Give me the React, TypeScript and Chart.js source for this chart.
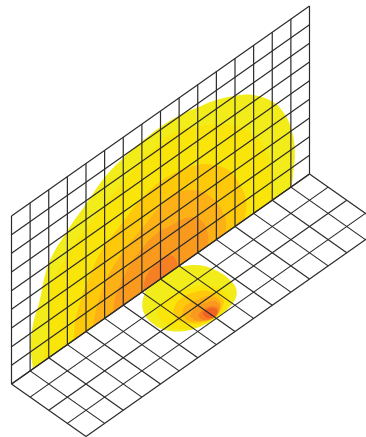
import React, { useEffect, useRef } from "react";
import { Chart, registerables } from "chart.js";

Chart.register(...registerables);

// Grid size, in cells
const wallColumns = [0, 1, 2, 3, 4, 5, 6, 7, 8, 9, 10, 11, 12, 13, 14, 15, 16];
const wallRows = [0, 1, 2, 3, 4, 5, 6, 7, 8, 9];
const floorRows = [0, 1, 2, 3, 4];

// Contours on the wall: [column, height]
const wallLevel1 = [[1.15,0],[1.03,1.26],[1.17,2.44],[1.48,3.3],[1.99,5.03],[2.96,6.06],[4,6.83],[5.02,7.56],[6,7.89],[6.99,8.06],[8.01,8.15],[9.05,8.05],[10.01,7.79],[11,7.48],[11.98,7.01],[12.97,6.36],[14.04,5.24],[14.58,4.33],[15.02,3.13],[15.21,1.84],[15.11,0.47],[15.02,0]];
const wallLevel2 = [[1.69,0],[1.96,1.52],[2.07,3.58],[2.96,4.72],[4,5.54],[5.02,6.06],[5.99,6.61],[7.06,7.03],[8.13,7.35],[9.05,7.24],[10.66,6.38],[11.89,5.51],[12.97,4.22],[13.66,2.92],[14.02,1.23],[14.04,0]];
const wallLevel3 = [[3.36,0],[3.41,0.87],[3.57,1.45],[4,2.49],[4.86,3.76],[5.99,4.47],[7.06,5.05],[8.35,5.22],[9.96,4.73],[10.93,4.04],[11.73,3.16],[12.27,2.03],[12.59,1],[12.54,0]];
const wallLevel4 = [[4.38,0],[4.48,0.54],[4.86,1.62],[5.45,2.43],[6.36,3.08],[7.28,3.56],[7.81,3.83],[8.67,4.02],[9.74,3.54],[10.77,2.39],[11.46,0.88],[11.52,0]];
const wallLevel5 = [[5.45,0],[5.61,0.82],[6.36,1.9],[7.17,2.41],[7.81,2.59],[8.51,2.48],[9.21,2.36],[9.74,2.09],[10.28,1.45],[10.55,0.56],[10.55,0]];
const wallLevel6 = [[7.06,0],[7.22,0.65],[7.7,0.95],[8.4,1],[8.78,0.57],[8.94,0]];

// Contours on the floor: [column, depth]
const floorLevel1 = [[7.13,0.04],[6.52,0.5],[6.21,0.96],[6.09,1.44],[6.18,2.06],[6.68,2.64],[7.31,2.9],[8.02,3],[9.03,2.86],[9.59,2.5],[9.83,1.9],[9.81,1.12],[9.51,0.45],[8.9,0]];
const floorLevel2 = [[6.5,1.32],[7,0.98],[7.7,0.92],[8.54,1.15],[9.12,1.65],[9.18,2.4],[8.82,2.8],[8.11,2.93],[7.37,2.87],[6.75,2.56],[6.41,1.99],[6.5,1.32]];
const floorLevel3 = [[7.12,1.56],[7.63,1.31],[8.31,1.38],[8.82,1.73],[8.93,2.38],[8.65,2.71],[8.02,2.91],[7.44,2.79],[7.07,2.42],[6.89,2],[7.12,1.56]];
const floorLevel4 = [[7.21,1.95],[7.63,1.69],[8.18,1.78],[8.68,1.98],[8.76,2.44],[8.49,2.7],[8.02,2.91],[7.54,2.74],[7.19,2.39],[7.21,1.95]];
const floorLevel5 = [[7.38,2.2],[7.82,2.03],[8.28,2.11],[8.63,2.31],[8.57,2.63],[8.25,2.84],[7.95,2.92],[7.54,2.74],[7.37,2.49],[7.38,2.2]];
const floorLevel6 = [[7.64,2.38],[7.96,2.32],[8.36,2.42],[8.44,2.65],[8.25,2.84],[8.02,2.91],[7.69,2.81],[7.56,2.61],[7.64,2.38]];
const floorLevel7 = [[7.82,2.41],[8.23,2.44],[8.34,2.7],[8.06,2.88],[7.77,2.74],[7.82,2.41]];

const wallLevels = [wallLevel1, wallLevel2, wallLevel3, wallLevel4, wallLevel5, wallLevel6];
const floorLevels = [floorLevel1, floorLevel2, floorLevel3, floorLevel4, floorLevel5, floorLevel6, floorLevel7];
const levelColors = ["#f3ec1b", "#fae50a", "#fec90b", "#feb117", "#f99a1f", "#f67f24", "#f26322"];

const WIDTH = 366;
const HEIGHT = 437;
const CELL_X = 18.625;
const CELL_Y = 18.667;
const SKEW = 13.125 / CELL_Y;
const ORIGIN_X = 11.5;
const ORIGIN_Y = 384;

const wallPoint = ([u, v]: number[]) => ({ x: u, y: v + SKEW * u });
const floorPoint = ([u, w]: number[]) => ({ x: u + w, y: SKEW * (u - w) });

const polygonFill = {
  id: "polygonFill",
  beforeDatasetsDraw(chart: any) {
    const { ctx, chartArea } = chart;
    chart.data.datasets.forEach((ds: any, i: number) => {
      if (!ds.polygonColor) return;
      const line = chart.getDatasetMeta(i).dataset;
      line.updateControlPoints(chartArea, "x");
      ctx.save();
      ctx.beginPath();
      line.path(ctx);
      ctx.closePath();
      ctx.fillStyle = ds.polygonColor;
      ctx.fill();
      ctx.restore();
    });
  },
};

function buildDatasets() {
  const area = (data: any[], color: string) => ({
    data,
    polygonColor: color,
    tension: 0.4,
    borderWidth: 0,
    borderColor: "rgba(0,0,0,0)",
    pointRadius: 0,
    fill: false,
  });
  const rule = (data: any[]) => ({
    data,
    tension: 0,
    borderWidth: 1.2,
    borderColor: "#2b2b2b",
    pointRadius: 0,
    fill: false,
    clip: false,
  });
  const topColumn = wallColumns[wallColumns.length - 1];
  const topRow = wallRows[wallRows.length - 1];
  const frontRow = floorRows[floorRows.length - 1];
  return [
    ...wallLevels.map((c, i) => area(c.map(wallPoint), levelColors[i])),
    ...floorLevels.map((c, i) => area(c.map(floorPoint), levelColors[i])),
    ...wallColumns.map((u) => rule([[u, 0], [u, topRow]].map(wallPoint))),
    ...wallRows.map((v) => rule([[0, v], [topColumn, v]].map(wallPoint))),
    ...wallColumns.map((u) => rule([[u, 0], [u, frontRow]].map(floorPoint))),
    ...floorRows.map((w) => rule([[0, w], [topColumn, w]].map(floorPoint))),
  ];
}

export default function App() {
  const ref = useRef<HTMLCanvasElement>(null);
  useEffect(() => {
    if (!ref.current) return;
    const chart = new Chart(ref.current, {
      type: "line",
      data: { datasets: buildDatasets() as any },
      options: {
        animation: false,
        responsive: false,
        layout: { padding: 0 },
        events: [],
        plugins: { legend: { display: false }, tooltip: { enabled: false }, title: { display: false } },
        scales: {
          x: { type: "linear", display: false, min: -ORIGIN_X / CELL_X, max: (WIDTH - ORIGIN_X) / CELL_X },
          y: { type: "linear", display: false, min: (ORIGIN_Y - HEIGHT) / CELL_Y, max: ORIGIN_Y / CELL_Y },
        },
      },
      plugins: [polygonFill as any],
    });
    return () => chart.destroy();
  }, []);
  return (
    <div style={{ position: "fixed", left: 0, top: 0, width: WIDTH, height: HEIGHT, background: "#fff" }}>
      <canvas ref={ref} width={WIDTH} height={HEIGHT} style={{ display: "block" }} />
    </div>
  );
}
